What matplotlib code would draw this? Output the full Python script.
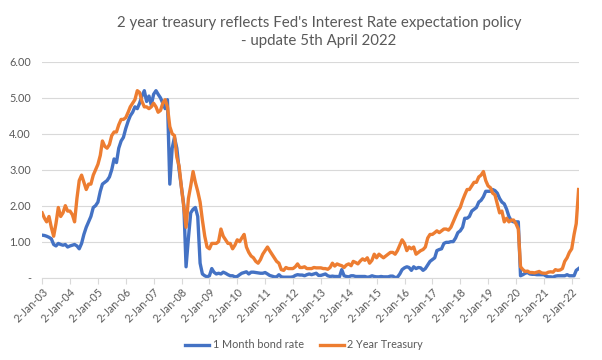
import numpy as np
import pandas as pd
import matplotlib
matplotlib.use("Agg")
import matplotlib.pyplot as plt

# monthly readings, Jan 2003 .. Apr 2022
month_start = "2003-01-01"
month_end = "2022-04-01"

one_month = [
    1.18, 1.17, 1.15, 1.12, 1.08, 0.92, 0.88, 0.95, 0.92, 0.90, 0.92, 0.85,  # 2003
    0.88, 0.90, 0.92, 0.88, 0.80, 0.95, 1.20, 1.40, 1.55, 1.70, 1.95, 2.00,  # 2004
    2.10, 2.40, 2.60, 2.65, 2.70, 2.80, 3.00, 3.30, 3.20, 3.60, 3.80, 3.90,  # 2005
    4.15, 4.35, 4.50, 4.60, 4.75, 4.70, 4.85, 5.05, 5.20, 4.90, 5.05, 4.80,  # 2006
    5.10, 5.20, 5.10, 5.00, 4.85, 4.70, 4.95, 2.60, 3.60, 3.90, 3.60, 3.00,  # 2007
    2.50, 2.00, 0.30, 1.10, 1.80, 1.90, 1.95, 1.70, 0.40, 0.10, 0.05, 0.02,  # 2008
    0.05, 0.25, 0.15, 0.10, 0.12, 0.10, 0.15, 0.12, 0.08, 0.05, 0.05, 0.02,  # 2009
    0.03, 0.08, 0.12, 0.14, 0.16, 0.10, 0.15, 0.15, 0.14, 0.13, 0.12, 0.12,  # 2010
    0.14, 0.10, 0.06, 0.04, 0.02, 0.02, 0.08, 0.02, 0.01, 0.01, 0.01, 0.01,  # 2011
    0.02, 0.06, 0.08, 0.07, 0.07, 0.05, 0.08, 0.10, 0.08, 0.10, 0.12, 0.06,  # 2012
    0.06, 0.08, 0.10, 0.05, 0.03, 0.04, 0.03, 0.03, 0.02, 0.22, 0.05, 0.03,  # 2013
    0.02, 0.05, 0.05, 0.03, 0.03, 0.03, 0.03, 0.03, 0.01, 0.02, 0.05, 0.03,  # 2014
    0.02, 0.02, 0.03, 0.02, 0.02, 0.02, 0.04, 0.04, 0.00, 0.01, 0.10, 0.22,  # 2015
    0.27, 0.30, 0.28, 0.20, 0.30, 0.25, 0.28, 0.27, 0.20, 0.25, 0.35, 0.45,  # 2016
    0.50, 0.55, 0.75, 0.78, 0.80, 0.95, 0.98, 0.98, 1.00, 1.00, 1.10, 1.25,  # 2017
    1.30, 1.40, 1.65, 1.65, 1.70, 1.85, 1.90, 1.95, 2.10, 2.15, 2.25, 2.40,  # 2018
    2.40, 2.40, 2.45, 2.42, 2.35, 2.20, 2.10, 2.05, 1.90, 1.70, 1.58, 1.55,  # 2019
    1.55, 1.55, 0.05, 0.08, 0.12, 0.14, 0.10, 0.09, 0.09, 0.08, 0.08, 0.08,  # 2020
    0.08, 0.04, 0.02, 0.02, 0.01, 0.04, 0.05, 0.05, 0.05, 0.05, 0.08, 0.05,  # 2021
    0.05, 0.05, 0.20, 0.25,                                                  # 2022
]

two_year = [
    1.80, 1.65, 1.55, 1.70, 1.40, 1.15, 1.50, 1.95, 1.70, 1.80, 2.00, 1.85,  # 2003
    1.85, 1.75, 1.55, 2.20, 2.70, 2.85, 2.65, 2.45, 2.60, 2.60, 2.85, 3.00,  # 2004
    3.15, 3.40, 3.80, 3.65, 3.60, 3.70, 3.95, 4.05, 4.05, 4.25, 4.40, 4.40,  # 2005
    4.45, 4.60, 4.75, 4.85, 4.95, 5.20, 5.15, 4.90, 4.75, 4.75, 4.70, 4.75,  # 2006
    4.85, 4.75, 4.60, 4.65, 4.85, 4.95, 4.75, 4.20, 4.00, 3.95, 3.35, 3.10,  # 2007
    2.50, 1.95, 1.40, 2.20, 2.55, 2.95, 2.65, 2.40, 2.10, 1.60, 1.15, 0.85,  # 2008
    0.80, 0.95, 0.95, 0.95, 1.00, 1.35, 1.15, 1.05, 0.95, 0.95, 0.80, 0.90,  # 2009
    1.05, 1.00, 1.10, 1.20, 0.85, 0.70, 0.60, 0.55, 0.45, 0.40, 0.50, 0.65,  # 2010
    0.75, 0.85, 0.75, 0.65, 0.55, 0.45, 0.40, 0.22, 0.20, 0.28, 0.25, 0.25,  # 2011
    0.25, 0.30, 0.38, 0.28, 0.28, 0.30, 0.25, 0.25, 0.25, 0.28, 0.27, 0.27,  # 2012
    0.27, 0.25, 0.25, 0.23, 0.28, 0.40, 0.32, 0.38, 0.35, 0.33, 0.28, 0.35,  # 2013
    0.38, 0.33, 0.45, 0.42, 0.38, 0.46, 0.52, 0.48, 0.55, 0.40, 0.48, 0.65,  # 2014
    0.55, 0.65, 0.60, 0.55, 0.60, 0.65, 0.70, 0.70, 0.65, 0.75, 0.90, 1.05,  # 2015
    0.95, 0.75, 0.85, 0.80, 0.85, 0.65, 0.70, 0.75, 0.78, 0.85, 1.10, 1.20,  # 2016
    1.20, 1.25, 1.30, 1.25, 1.30, 1.35, 1.35, 1.32, 1.40, 1.55, 1.70, 1.85,  # 2017
    1.95, 2.15, 2.30, 2.45, 2.45, 2.55, 2.65, 2.65, 2.80, 2.85, 2.95, 2.70,  # 2018
    2.55, 2.50, 2.35, 2.30, 2.05, 1.80, 1.85, 1.55, 1.65, 1.55, 1.60, 1.60,  # 2019
    1.50, 1.35, 0.30, 0.22, 0.17, 0.18, 0.14, 0.14, 0.13, 0.15, 0.17, 0.13,  # 2020
    0.12, 0.12, 0.15, 0.16, 0.15, 0.22, 0.20, 0.21, 0.25, 0.45, 0.55, 0.70,  # 2021
    0.80, 1.20, 1.50, 2.45,                                                  # 2022
]

tick_years = list(range(2003, 2023))
y_ticks = [0, 1, 2, 3, 4, 5, 6]
y_labels = ["-", "1.00", "2.00", "3.00", "4.00", "5.00", "6.00"]

BLUE = "#4472C4"
ORANGE = "#ED7D31"
GREY = "#595959"

plt.rcParams["font.family"] = ["Lato", "DejaVu Sans"]

dates = pd.date_range(month_start, month_end, freq="MS")

fig = plt.figure(figsize=(6.02, 3.60), dpi=100)
ax = fig.add_axes([0.070, 0.229, 0.892, 0.599])

ax.plot(dates, one_month, color=BLUE, lw=2.4, label="1 Month bond rate", solid_joinstyle="round")
ax.plot(dates, two_year, color=ORANGE, lw=2.4, label="2 Year Treasury", solid_joinstyle="round")

ax.set_ylim(0, 6)
ax.set_yticks(y_ticks)
ax.set_yticklabels(y_labels)
ax.set_xlim(pd.Timestamp("2003-01-01"), pd.Timestamp("2022-04-08"))

tick_dates = [pd.Timestamp(year=y, month=1, day=2) for y in tick_years]
ax.set_xticks(tick_dates)
ax.set_xticklabels(["2-Jan-%02d" % (y % 100) for y in tick_years], rotation=45,
                   ha="right", rotation_mode="anchor")

ax.grid(axis="y", color="#D9D9D9", lw=0.8)
ax.set_axisbelow(True)
for s in ["top", "right", "left"]:
    ax.spines[s].set_visible(False)
ax.spines["bottom"].set_color("#D9D9D9")
ax.tick_params(axis="y", length=0, labelsize=7.8, colors=GREY, pad=8)
ax.tick_params(axis="x", length=4, color="#D9D9D9", labelsize=7.8, labelcolor=GREY, pad=2)

fig.text(0.53, 0.955, "2 year treasury reflects Fed's Interest Rate expectation policy\n- update 5th April 2022",
         ha="center", va="top", fontsize=10.8, color=GREY, linespacing=1.3)

fig.legend(loc="center", bbox_to_anchor=(0.505, 0.042), ncol=2, frameon=False,
           fontsize=7.8, labelcolor=GREY, handlelength=2.2, handletextpad=0.3, columnspacing=1.5)

fig.savefig("out.png", dpi=100)
